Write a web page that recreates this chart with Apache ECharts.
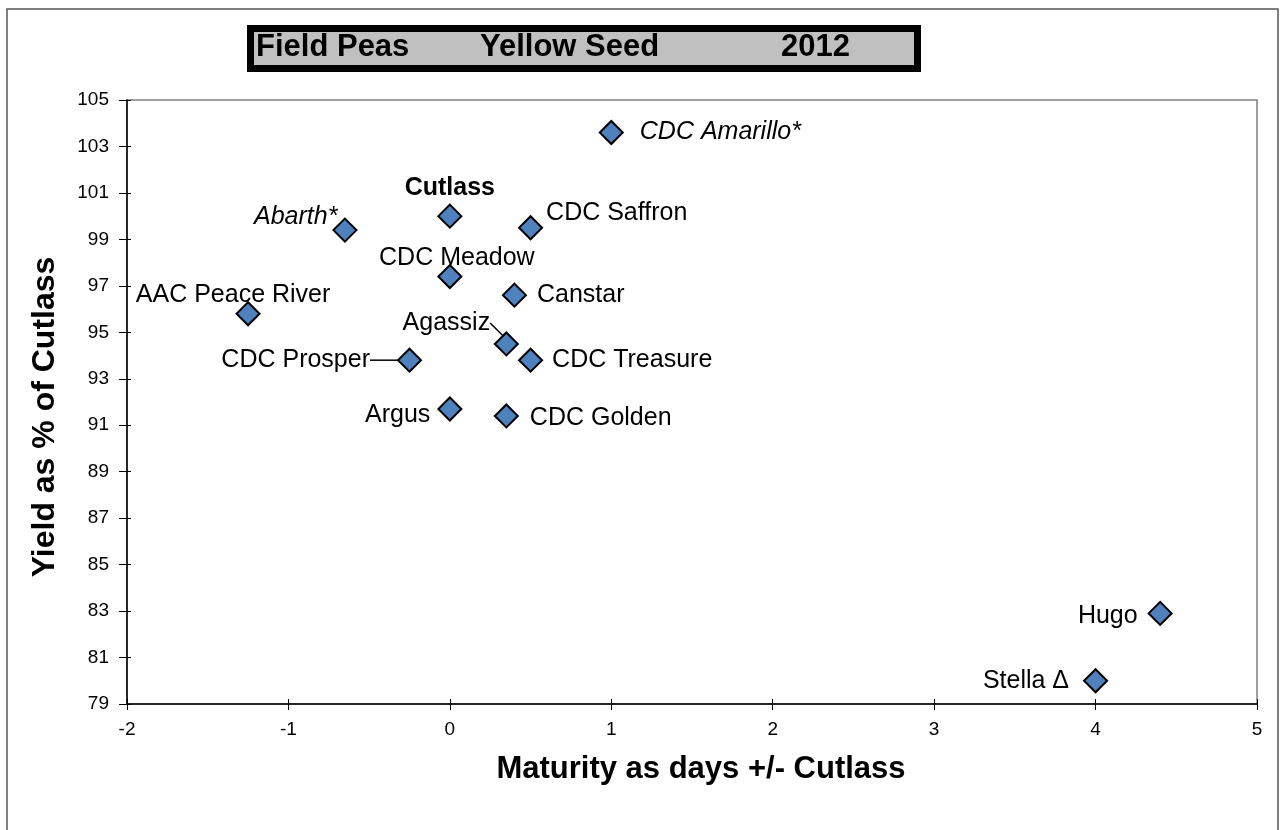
<!DOCTYPE html>
<html>
<head>
<meta charset="utf-8">
<script src="https://cdn.jsdelivr.net/npm/echarts@6/dist/echarts.min.js"></script>
<style>html,body{margin:0;padding:0;background:#fff;}#c{width:1280px;height:830px;}</style>
</head>
<body>
<div id="c"></div>
<script>
// ---- data ----
const varieties = ['CDC Amarillo*','Cutlass','CDC Saffron','Abarth*','CDC Meadow','Canstar','AAC Peace River','Agassiz','CDC Treasure','CDC Prosper','Argus','CDC Golden','Hugo','Stella \u0394'];
const maturityDays = [1.0, 0.0, 0.5, -0.65, 0.0, 0.4, -1.25, 0.35, 0.5, -0.25, 0.0, 0.35, 4.4, 4.0];
const yieldPct = [103.6, 100.0, 99.5, 99.4, 97.4, 96.6, 95.8, 94.5, 93.8, 93.8, 91.7, 91.4, 82.9, 80.0];
const titleParts = ['Field Peas', 'Yellow Seed', '2012'];
const xAxisTitle = 'Maturity as days +/- Cutlass';
const yAxisTitle = 'Yield as % of Cutlass';

// ---- label placement (style only) ----
const labelStyle = {
  'CDC Amarillo*': {position: 'right', distance: 16, fontStyle: 'italic'},
  'Cutlass': {position: 'top', distance: 3, fontWeight: 'bold'},
  'CDC Saffron': {position: 'right', distance: 3, move: [0, -15]},
  'Abarth*': {position: 'left', distance: 0, move: [5, -13], fontStyle: 'italic'},
  'CDC Meadow': {position: 'top', distance: 0, move: [7, 7]},
  'Canstar': {position: 'right', distance: 10},
  'AAC Peace River': {position: 'top', distance: 0, move: [-15, 6]},
  'Agassiz': {position: 'inside', distance: 0, move: [-60, -21], line: true},
  'CDC Treasure': {position: 'right', distance: 9},
  'CDC Prosper': {position: 'left', distance: 5, move: [-22, 0], line: true},
  'Argus': {position: 'left', distance: 7, move: [0, 6]},
  'CDC Golden': {position: 'right', distance: 11, move: [0, 2]},
  'Hugo': {position: 'left', distance: 10, move: [0, 3]},
  'Stella \u0394': {position: 'left', distance: 14}
};

const points = varieties.map((n, i) => {
  const s = labelStyle[n] || {};
  const lab = {position: s.position || 'right', distance: s.distance || 0};
  if (s.fontStyle) lab.fontStyle = s.fontStyle;
  if (s.fontWeight) lab.fontWeight = s.fontWeight;
  return {
    name: n,
    value: [maturityDays[i], yieldPct[i]],
    label: lab,
    labelLine: {show: !!s.line}
  };
});

const chart = echarts.init(document.getElementById('c'), null, {renderer: 'canvas'});
const FONT = 'Liberation Sans, Arial, sans-serif';
const TFONT = 'bold 31px "Liberation Sans", Arial, sans-serif';
chart.setOption({
  backgroundColor: '#ffffff',
  animation: false,
  textStyle: {fontFamily: FONT},
  grid: {left: 127, right: 23, top: 100, bottom: 126, show: true, borderColor: '#808080', borderWidth: 1.5, backgroundColor: 'transparent'},
  xAxis: [{
    type: 'value', min: -2, max: 5, interval: 1,
    name: xAxisTitle, nameLocation: 'middle', nameGap: 50,
    nameTextStyle: {fontSize: 31, fontWeight: 'bold', color: '#000', fontFamily: FONT, padding: [0, 0, 0, 18]},
    axisLine: {show: true, onZero: false, lineStyle: {color: '#000', width: 1.5}},
    axisTick: {show: true, length: 6, lineStyle: {color: '#000'}},
    axisLabel: {fontSize: 19, color: '#000', margin: 16, fontFamily: FONT},
    splitLine: {show: false}
  }, {
    type: 'value', min: -2, max: 5, interval: 1, position: 'bottom',
    axisLine: {show: false, onZero: false}, axisLabel: {show: false}, splitLine: {show: false},
    axisTick: {show: true, inside: true, length: 5, lineStyle: {color: '#000'}}
  }],
  yAxis: [{
    type: 'value', min: 79, max: 105, interval: 2,
    name: yAxisTitle, nameLocation: 'middle', nameGap: 66,
    nameTextStyle: {fontSize: 32, fontWeight: 'bold', color: '#000', fontFamily: FONT, padding: [0, 30, 0, 0]},
    axisLine: {show: true, onZero: false, lineStyle: {color: '#000', width: 1.5}},
    axisTick: {show: true, length: 8, lineStyle: {color: '#000'}},
    axisLabel: {fontSize: 19, color: '#000', margin: 18, fontFamily: FONT},
    splitLine: {show: false}
  }, {
    type: 'value', min: 79, max: 105, interval: 2, position: 'left',
    axisLine: {show: false, onZero: false}, axisLabel: {show: false}, splitLine: {show: false},
    axisTick: {show: true, inside: true, length: 4, lineStyle: {color: '#000'}}
  }],
  series: [{
    type: 'scatter',
    symbol: 'diamond',
    symbolSize: 23,
    itemStyle: {color: '#4F81BD', borderColor: '#000', borderWidth: 2, opacity: 1},
    label: {show: true, formatter: '{b}', fontSize: 25, color: '#000', fontFamily: FONT},
    labelLine: {lineStyle: {color: '#000', width: 1.5}},
    labelLayout: function (p) {
      const s = labelStyle[varieties[p.dataIndex]];
      if (s && s.move) return {dx: s.move[0], dy: s.move[1]};
      return {};
    },
    emphasis: {disabled: true},
    data: points
  }],
  graphic: [
    {type: 'rect', shape: {x: 7, y: 9, width: 1271, height: 840}, style: {fill: 'none', stroke: '#555', lineWidth: 1.5}, silent: true},
    {type: 'rect', shape: {x: 250.5, y: 28.5, width: 667, height: 40}, style: {fill: '#C0C0C0', stroke: '#000', lineWidth: 7}, silent: true},
    {type: 'text', x: 256, y: 47, style: {text: titleParts[0], font: TFONT, fill: '#000', verticalAlign: 'middle', align: 'left'}, silent: true},
    {type: 'text', x: 480, y: 47, style: {text: titleParts[1], font: TFONT, fill: '#000', verticalAlign: 'middle', align: 'left'}, silent: true},
    {type: 'text', x: 781, y: 47, style: {text: titleParts[2], font: TFONT, fill: '#000', verticalAlign: 'middle', align: 'left'}, silent: true}
  ]
});
</script>
</body>
</html>
